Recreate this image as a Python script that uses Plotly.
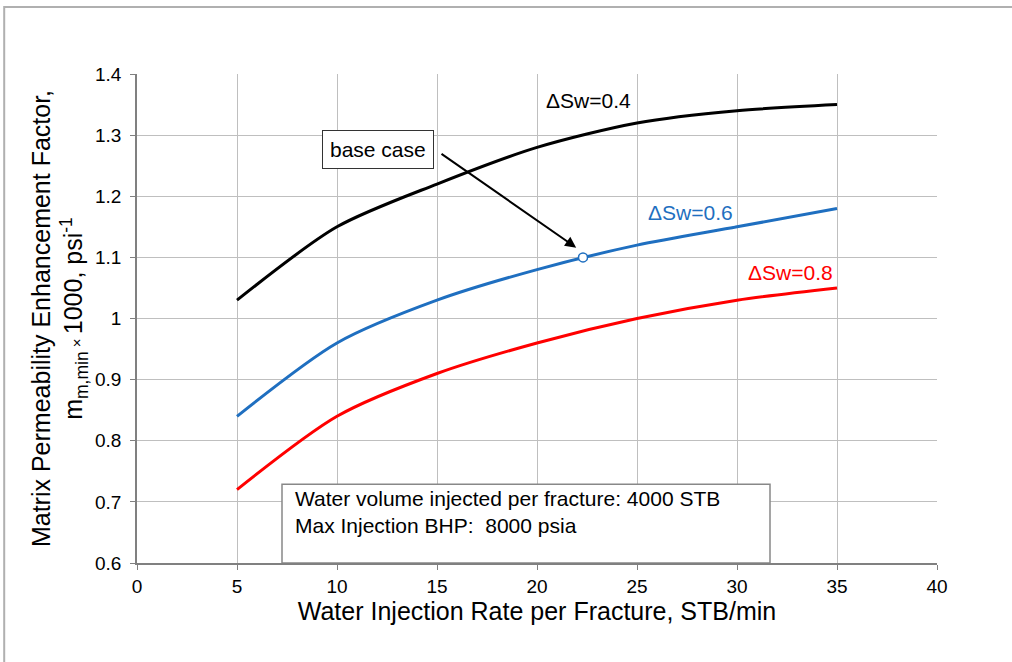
import plotly.graph_objects as go

# Water injection rate per fracture, STB/min
rate = [5, 10, 15, 20, 25, 30, 35]

# Matrix permeability enhancement factor for each water saturation change
sw04 = [1.03, 1.15, 1.22, 1.28, 1.32, 1.34, 1.35]
sw06 = [0.84, 0.96, 1.03, 1.08, 1.12, 1.15, 1.18]
sw08 = [0.72, 0.84, 0.91, 0.96, 1.00, 1.03, 1.05]

base_rate = 22.3
base_value = 1.10

x_ticks = [0, 5, 10, 15, 20, 25, 30, 35, 40]
y_ticks = [0.6, 0.7, 0.8, 0.9, 1.0, 1.1, 1.2, 1.3, 1.4]
y_tick_text = ["0.6", "0.7", "0.8", "0.9", "1", "1.1", "1.2", "1.3", "1.4"]

FONT = "Liberation Sans, Arial, sans-serif"
BLUE = "#1f6fc0"

fig = go.Figure()
for ys, col in [(sw04, "#000000"), (sw06, BLUE), (sw08, "#ff0000")]:
    fig.add_trace(go.Scatter(x=rate, y=ys, mode="lines",
                             line=dict(color=col, width=3, shape="spline", smoothing=0.8),
                             showlegend=False, hoverinfo="skip"))

fig.add_trace(go.Scatter(x=[base_rate], y=[base_value], mode="markers",
                         marker=dict(size=9, color="white", line=dict(color=BLUE, width=1.5)),
                         showlegend=False))

# curve labels
for txt, x, y, col in [("ΔSw=0.4", 22.55, 1.357, "#000000"),
                       ("ΔSw=0.6", 27.65, 1.174, BLUE),
                       ("ΔSw=0.8", 32.65, 1.076, "#ff0000")]:
    fig.add_annotation(x=x, y=y, text=txt, showarrow=False, bgcolor="white",
                       font=dict(family=FONT, size=21, color=col))

# base case callout
fig.add_annotation(x=base_rate - 0.3, y=base_value + 0.015, ax=15.15, ay=1.271,
                   axref="x", ayref="y", text="", showarrow=True,
                   arrowhead=2, arrowsize=1.1, arrowwidth=2, arrowcolor="#000000",
                   standoff=1)
fig.add_annotation(x=12.03, y=1.277, xanchor="center", yanchor="middle", text="base case",
                   showarrow=False, bgcolor="white", bordercolor="#333333", borderwidth=1,
                   borderpad=7, font=dict(family=FONT, size=21, color="#000000"))

# conditions box
fig.add_shape(type="rect", xref="x", yref="y", x0=7.25, x1=31.65, y0=0.6, y1=0.729,
              line=dict(color="#888888", width=1.5), fillcolor="white", layer="above")
fig.add_annotation(x=7.8, y=0.683, xanchor="left", yanchor="middle", align="left",
                   text="Water volume injected per fracture: 4000 STB<br>Max Injection BHP:  8000 psia",
                   showarrow=False, font=dict(family=FONT, size=21, color="#000000"))

# outer frame
fig.add_shape(type="rect", xref="paper", yref="paper", x0=-0.166, x1=1.3, y0=-0.4, y1=1.137,
              line=dict(color="#b0b0b0", width=2), fillcolor="rgba(0,0,0,0)", layer="below")

fig.update_xaxes(range=[0, 40], tickvals=x_ticks, showgrid=True, gridcolor="#bfbfbf",
                 gridwidth=1, zeroline=False, showline=True, linecolor="#808080", linewidth=2,
                 ticks="outside", ticklen=5, tickcolor="#808080",
                 tickfont=dict(family=FONT, size=19, color="#000000"),
                 title=dict(text="Water Injection Rate per Fracture, STB/min",
                            font=dict(family=FONT, size=25, color="#000000"), standoff=4))
fig.update_yaxes(range=[0.6, 1.4], tickvals=y_ticks, ticktext=y_tick_text, showgrid=True,
                 gridcolor="#bfbfbf", gridwidth=1, zeroline=False, showline=True,
                 linecolor="#808080", linewidth=1.5, ticks="outside", ticklen=5,
                 tickcolor="#808080", ticklabelstandoff=5,
                 tickfont=dict(family=FONT, size=19, color="#000000"),
                 title=dict(text="Matrix Permeability Enhancement Factor,<br>m<sub>m,min</sub><span style='font-size:15px'> × </span>1000, psi<sup>-1</sup>",
                            font=dict(family=FONT, size=25, color="#000000"), standoff=5))

fig.update_layout(width=1012, height=662, margin=dict(l=137, r=75, t=74, b=99),
                  plot_bgcolor="white", paper_bgcolor="white",
                  font=dict(family=FONT))

fig.write_html("out.html")
